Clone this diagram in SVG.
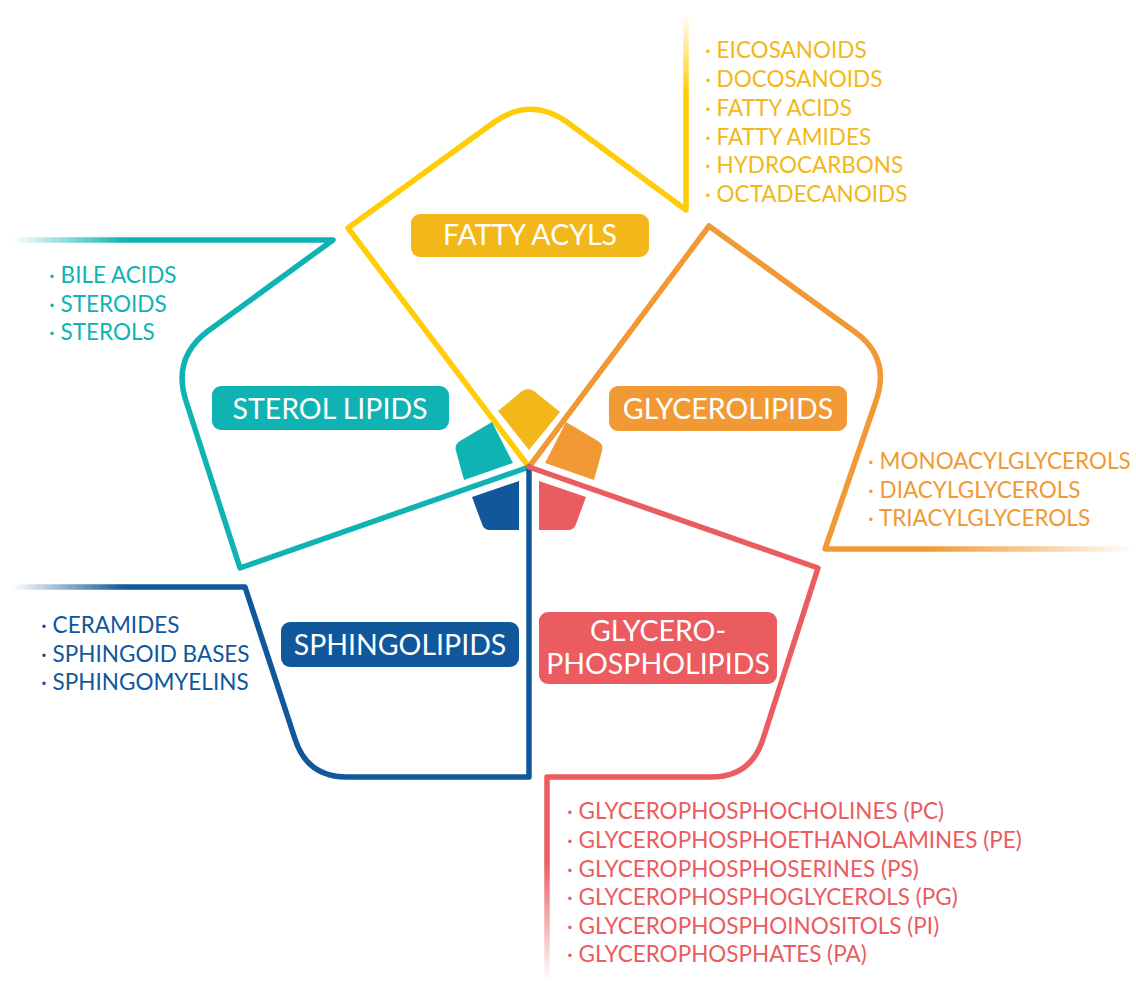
<svg xmlns="http://www.w3.org/2000/svg" width="1136" height="981" viewBox="0 0 1136 981">
<defs>
<linearGradient id="gY" gradientUnits="userSpaceOnUse" x1="0" y1="13" x2="0" y2="95"><stop offset="0" stop-color="#FFCC05" stop-opacity="0"/><stop offset="1" stop-color="#FFCC05"/></linearGradient>
<linearGradient id="gT" gradientUnits="userSpaceOnUse" x1="12" y1="0" x2="125" y2="0"><stop offset="0" stop-color="#10B3B4" stop-opacity="0"/><stop offset="1" stop-color="#10B3B4"/></linearGradient>
<linearGradient id="gO" gradientUnits="userSpaceOnUse" x1="930" y1="0" x2="1136" y2="0"><stop offset="0" stop-color="#F19A35"/><stop offset="1" stop-color="#F19A35" stop-opacity="0"/></linearGradient>
<linearGradient id="gB" gradientUnits="userSpaceOnUse" x1="12" y1="0" x2="125" y2="0"><stop offset="0" stop-color="#10579B" stop-opacity="0"/><stop offset="1" stop-color="#10579B"/></linearGradient>
<linearGradient id="gR" gradientUnits="userSpaceOnUse" x1="0" y1="860" x2="0" y2="981"><stop offset="0" stop-color="#EA5C5F"/><stop offset="1" stop-color="#EA5C5F" stop-opacity="0"/></linearGradient>
</defs>
<style>
.ol{fill:none;stroke-width:5.5;stroke-linejoin:round;stroke-linecap:round}
.lbl{font-family:Lato,"Liberation Sans",sans-serif;font-size:28.5px;fill:#ffffff;text-anchor:middle}
.lst{font-family:Lato,"Liberation Sans",sans-serif;font-size:22.5px}
.y{fill:#F2B81A}.t{fill:#10B3B4}.o{fill:#F19A35}.b{fill:#10579B}.r{fill:#EA5C5F}
</style>
<rect width="1136" height="981" fill="#ffffff"/>
<g id="connectors">
<path class="ol" stroke="url(#gY)" d="M686,13 L686,210 L567,122 Q530,96 493,123 L348,228 L529,467"/>
<path class="ol" stroke="url(#gT)" d="M12,240 L333,240 L208,331 Q172,358 186,401 L240,568 L529,467"/>
<path class="ol" stroke="url(#gO)" d="M529,467 L709,226 L855,332 Q891,358 876,401 L825,549 L1136,549"/>
<path class="ol" stroke="url(#gB)" d="M12,587 L245,587 L295,739 Q307,777 347,777 L529,777 L529,467"/>
<path class="ol" stroke="url(#gR)" d="M529,467 L818,568 L763,739 Q751,777 711,777 L547,777 L547,981"/>
</g>
<g id="fatty-acyls">
<path class="y" d="M498,411 L522,391 Q528,387 534,391 L560,412 L529,450 Z"/>
<rect x="411" y="214" width="238" height="43" rx="9" class="y"/>
<text class="lbl" x="530" y="245">FATTY ACYLS</text>
<text class="lst y"><tspan x="705" y="58">· EICOSANOIDS</tspan><tspan x="705" y="87">· DOCOSANOIDS</tspan><tspan x="705" y="116">· FATTY ACIDS</tspan><tspan x="705" y="145">· FATTY AMIDES</tspan><tspan x="705" y="173">· HYDROCARBONS</tspan><tspan x="705" y="202">· OCTADECANOIDS</tspan></text>
</g>
<g id="sterol-lipids">
<path class="t" d="M492,422 L460,441 Q454,445 456,451 L464,480 L513,463 Z"/>
<rect x="212" y="386" width="237" height="44" rx="9" class="t"/>
<text class="lbl" x="330" y="419">STEROL LIPIDS</text>
<text class="lst t"><tspan x="49" y="283">· BILE ACIDS</tspan><tspan x="49" y="312">· STEROIDS</tspan><tspan x="49" y="340">· STEROLS</tspan></text>
</g>
<g id="glycerolipids">
<path class="o" d="M566,422 L598,441 Q604,445 602,451 L594,480 L545,463 Z"/>
<rect x="609" y="386" width="238" height="45" rx="9" class="o"/>
<text class="lbl" x="728" y="419">GLYCEROLIPIDS</text>
<text class="lst o"><tspan x="868" y="469">· MONOACYLGLYCEROLS</tspan><tspan x="868" y="498">· DIACYLGLYCEROLS</tspan><tspan x="868" y="526">· TRIACYLGLYCEROLS</tspan></text>
</g>
<g id="sphingolipids">
<path class="b" d="M472,497 L519,481 L519,530 L490,530 Q484,530 482,524 Z"/>
<rect x="281" y="622" width="238" height="45" rx="9" class="b"/>
<text class="lbl" x="400" y="655">SPHINGOLIPIDS</text>
<text class="lst b"><tspan x="41" y="633">· CERAMIDES</tspan><tspan x="41" y="662">· SPHINGOID BASES</tspan><tspan x="41" y="690">· SPHINGOMYELINS</tspan></text>
</g>
<g id="glycerophospholipids">
<path class="r" d="M586,497 L539,481 L539,530 L568,530 Q574,530 576,524 Z"/>
<rect x="539" y="612" width="238" height="72" rx="9" class="r"/>
<text class="lbl" x="658" y="641">GLYCERO-</text>
<text class="lbl" x="658" y="674">PHOSPHOLIPIDS</text>
<text class="lst r"><tspan x="567" y="819">· GLYCEROPHOSPHOCHOLINES (PC)</tspan><tspan x="567" y="848">· GLYCEROPHOSPHOETHANOLAMINES (PE)</tspan><tspan x="567" y="877">· GLYCEROPHOSPHOSERINES (PS)</tspan><tspan x="567" y="905">· GLYCEROPHOSPHOGLYCEROLS (PG)</tspan><tspan x="567" y="934">· GLYCEROPHOSPHOINOSITOLS (PI)</tspan><tspan x="567" y="962">· GLYCEROPHOSPHATES (PA)</tspan></text>
</g>
</svg>
